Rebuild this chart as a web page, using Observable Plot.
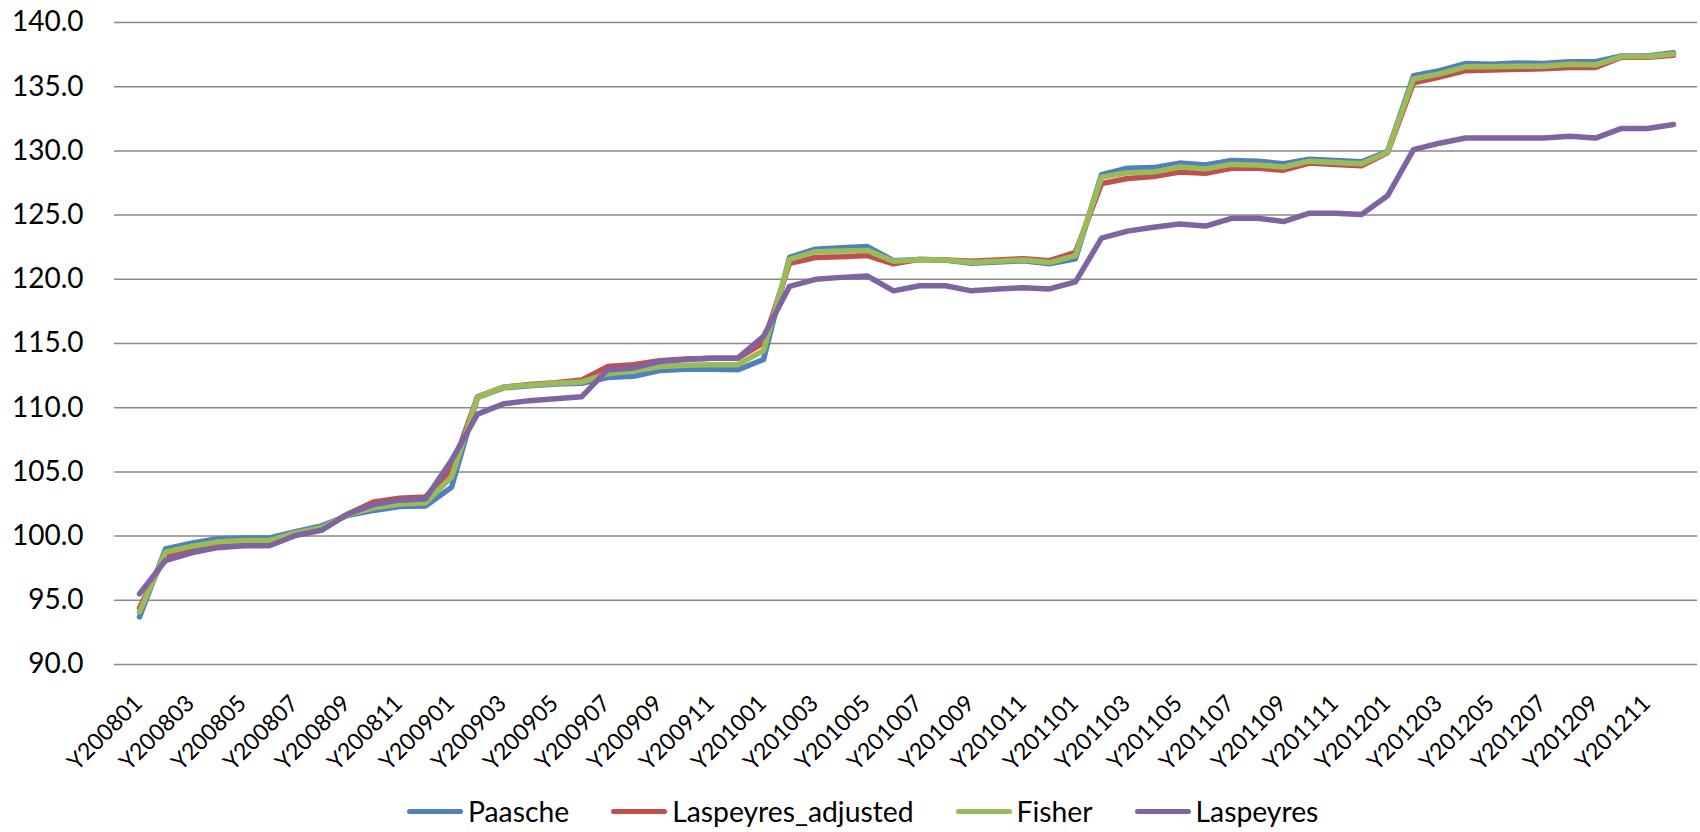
<!DOCTYPE html>
<html><head><meta charset="utf-8">
<script src="https://cdn.jsdelivr.net/npm/d3@7"></script>
<script src="https://cdn.jsdelivr.net/npm/@observablehq/plot@0.6"></script>
<style>
body{margin:0;background:#fff;font-family:Lato,sans-serif;}
#legend{display:flex;align-items:center;height:42px;margin-left:407px;gap:42px;font-size:28.3px;color:#000;}
.item{display:flex;align-items:center;}
.sw{width:56px;height:5px;border-radius:3px;margin-right:5px;}
</style></head><body>
<div id="chart"></div>
<div id="legend"></div>
<script>
const months = ["Y200801","Y200802","Y200803","Y200804","Y200805","Y200806","Y200807","Y200808","Y200809","Y200810","Y200811","Y200812",
"Y200901","Y200902","Y200903","Y200904","Y200905","Y200906","Y200907","Y200908","Y200909","Y200910","Y200911","Y200912",
"Y201001","Y201002","Y201003","Y201004","Y201005","Y201006","Y201007","Y201008","Y201009","Y201010","Y201011","Y201012",
"Y201101","Y201102","Y201103","Y201104","Y201105","Y201106","Y201107","Y201108","Y201109","Y201110","Y201111","Y201112",
"Y201201","Y201202","Y201203","Y201204","Y201205","Y201206","Y201207","Y201208","Y201209","Y201210","Y201211","Y201212"];

const paasche = [93.7,99.0,99.45,99.8,99.85,99.85,100.35,100.8,101.6,102.0,102.3,102.35,
103.8,110.8,111.55,111.7,111.85,111.9,112.35,112.45,112.9,113.0,113.0,112.95,
113.75,121.7,122.35,122.45,122.55,121.45,121.55,121.5,121.25,121.35,121.45,121.2,
121.6,128.15,128.65,128.7,129.05,128.9,129.25,129.2,129.0,129.35,129.25,129.15,
129.95,135.85,136.25,136.8,136.75,136.85,136.8,136.95,136.95,137.4,137.4,137.65];

const laspeyresAdjusted = [94.4,98.5,99.0,99.4,99.5,99.5,100.2,100.6,101.7,102.65,102.95,103.05,
105.2,110.85,111.6,111.8,111.95,112.15,113.2,113.35,113.65,113.8,113.85,113.85,
115.05,121.25,121.7,121.75,121.85,121.2,121.55,121.5,121.4,121.5,121.6,121.45,
122.1,127.45,127.85,128.0,128.35,128.25,128.65,128.65,128.5,129.05,128.95,128.85,
129.85,135.3,135.75,136.25,136.3,136.35,136.4,136.5,136.5,137.3,137.3,137.45];

const fisher = [94.1,98.75,99.2,99.55,99.65,99.65,100.25,100.65,101.65,102.2,102.5,102.6,
104.6,110.8,111.6,111.75,111.9,112.0,112.65,112.85,113.2,113.3,113.35,113.35,
114.45,121.55,122.15,122.2,122.25,121.4,121.55,121.5,121.3,121.4,121.5,121.3,
121.85,127.95,128.3,128.35,128.75,128.6,128.95,128.9,128.75,129.2,129.1,129.0,
129.9,135.6,136.0,136.55,136.55,136.6,136.6,136.75,136.7,137.35,137.35,137.55];

const laspeyres = [95.5,98.1,98.7,99.1,99.25,99.25,100.05,100.45,101.7,102.45,102.8,102.9,
105.9,109.5,110.3,110.55,110.7,110.85,112.95,113.1,113.6,113.75,113.85,113.85,
115.55,119.45,120.0,120.15,120.25,119.1,119.5,119.5,119.1,119.25,119.35,119.25,
119.8,123.2,123.75,124.05,124.3,124.15,124.75,124.75,124.5,125.15,125.15,125.05,
126.5,130.1,130.6,131.0,131.0,131.0,131.0,131.15,131.0,131.75,131.75,132.05];

const seriesNames = ["Paasche","Laspeyres_adjusted","Fisher","Laspeyres"];
const seriesColors = ["#4F81BD","#C0504D","#9BBB59","#8064A2"];
const yTicks = [90,95,100,105,110,115,120,125,130,135,140];
const tickLabels = ["Y200801","Y200803","Y200805","Y200807","Y200809","Y200811",
"Y200901","Y200903","Y200905","Y200907","Y200909","Y200911",
"Y201001","Y201003","Y201005","Y201007","Y201009","Y201011",
"Y201101","Y201103","Y201105","Y201107","Y201109","Y201111",
"Y201201","Y201203","Y201205","Y201207","Y201209","Y201211"];

const seriesValues = [paasche, laspeyresAdjusted, fisher, laspeyres];
const rows = [];
seriesNames.forEach((name, s) => {
  months.forEach((m, i) => rows.push({month: m, series: name, value: seriesValues[s][i]}));
});

const chart = Plot.plot({
  width: 1700,
  height: 790,
  marginTop: 22,
  marginBottom: 126,
  marginLeft: 114,
  marginRight: 3,
  x: {type: "point", domain: months, padding: 0.5, axis: null},
  y: {domain: [90, 140]},
  color: {domain: seriesNames, range: seriesColors},
  style: {fontFamily: "Lato, sans-serif", color: "#000", background: "#fff", overflow: "visible"},
  marks: [
    Plot.gridY(yTicks, {stroke: "#898989", strokeOpacity: 1, strokeWidth: 1.5}),
    Plot.axisY(yTicks, {tickSize: 0, tickPadding: 31, tickFormat: d => d.toFixed(1), fontSize: 28, label: null}),
    Plot.text(tickLabels, {x: d => d, frameAnchor: "bottom", rotate: -45, textAnchor: "end", lineAnchor: "middle", dy: 35, dx: -1, fontSize: 23, fill: "#000"}),
    Plot.line(rows, {x: "month", y: "value", z: "series", stroke: "series", strokeWidth: 5.5, strokeLinejoin: "round", strokeLinecap: "round"})
  ]
});
document.getElementById("chart").appendChild(chart);

const legend = document.getElementById("legend");
seriesNames.forEach((name, i) => {
  const item = document.createElement("div");
  item.className = "item";
  const sw = document.createElement("span");
  sw.className = "sw";
  sw.style.background = seriesColors[i];
  const label = document.createElement("span");
  label.textContent = name;
  item.appendChild(sw);
  item.appendChild(label);
  legend.appendChild(item);
});
</script>
</body></html>
